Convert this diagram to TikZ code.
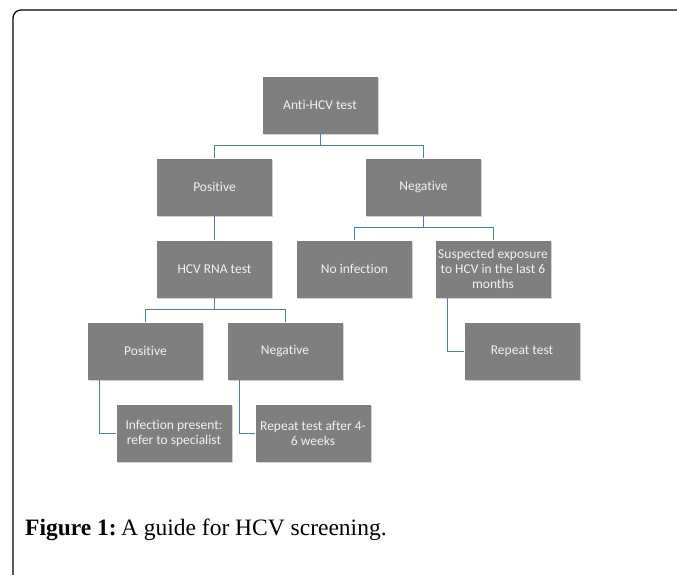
\documentclass[tikz,border=0pt]{standalone}
\usepackage{fontspec}
\setmainfont{Liberation Serif}
\newfontfamily\carlito[Ligatures={NoCommon}]{Carlito}
\usetikzlibrary{shadows}
\definecolor{boxgray}{HTML}{7F7F7F}
\definecolor{boxtext}{HTML}{F2F2F2}
\definecolor{linkblue}{HTML}{4A7EBB}
\tikzset{
  flowbox/.style={fill=boxgray, text=boxtext, minimum width=115pt, minimum height=57pt,
    inner sep=0pt, align=center, font=\carlito\fontsize{13.5}{15}\selectfont,
    drop shadow={shadow xshift=1.2pt, shadow yshift=-1.5pt, opacity=0.35}},
  link/.style={draw=linkblue, line width=1pt},
  frame/.style={draw=black, line width=1.3pt, rounded corners=8pt}
}
\begin{document}
\begin{tikzpicture}[x=1pt,y=-1pt]
\path[use as bounding box, fill=white] (0,0) rectangle (677,574);
\draw[frame] (13,580) -- (13,10) -- (690,10);
\node[flowbox] (anti) at (320,105) {Anti-HCV test};
\node[flowbox] (pos1) at (214.5,187) {Positive};
\node[flowbox] (neg1) at (423.5,187) {Negative};
\node[flowbox] (rna) at (214.5,269) {HCV RNA test};
\node[flowbox] (noinf) at (354.5,269) {No infection};
\node[flowbox] (susp) at (493,269) {Suspected exposure\\to HCV in the last 6\\months};
\node[flowbox] (pos2) at (145.5,351) {Positive};
\node[flowbox] (neg2) at (285,351) {Negative};
\node[flowbox] (rep) at (522,351) {Repeat test};
\node[flowbox] (infp) at (174,433) {Infection present:\\refer to specialist};
\node[flowbox] (rep2) at (313,433) {Repeat test after 4-\\6 weeks};
\draw[link] (anti.south) -- ++(0,12) -| (pos1.north);
\draw[link] (anti.south) -- ++(0,12) -| (neg1.north);
\draw[link] (pos1.south) -- (rna.north);
\draw[link] (neg1.south) -- ++(0,12) -| (noinf.north);
\draw[link] (neg1.south) -- ++(0,12) -| (susp.north);
\draw[link] (rna.south) -- ++(0,12) -| (pos2.north);
\draw[link] (rna.south) -- ++(0,12) -| (neg2.north);
\draw[link] ([xshift=12pt]pos2.south west) |- (infp.west);
\draw[link] ([xshift=12pt]neg2.south west) |- (rep2.west);
\draw[link] ([xshift=12pt]susp.south west) |- (rep.west);
\node[anchor=base west, inner sep=0pt, font=\fontsize{23.5}{28}\selectfont] (cap) at (25,535) {\textbf{Figure 1:}\hspace{0.18em}A guide for HCV screening.};
\end{tikzpicture}
\end{document}
